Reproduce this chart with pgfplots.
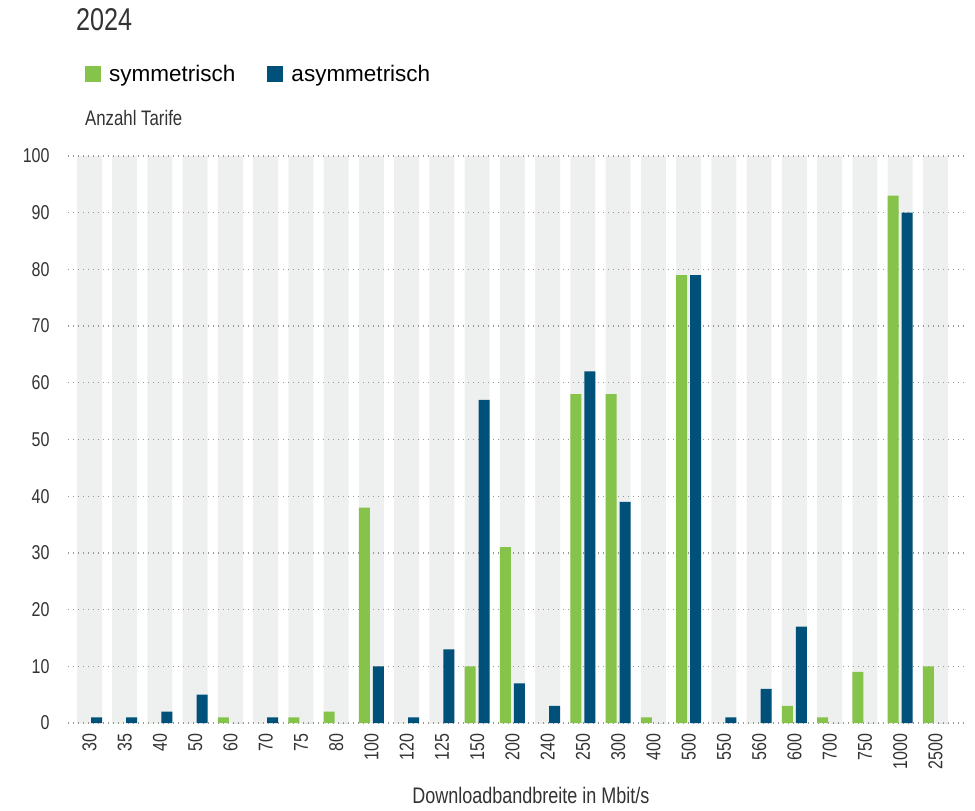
\documentclass[border=0pt]{standalone}
\usepackage{pgfplots}
\pgfplotsset{compat=1.18}
\usepackage{pgfplotstable}
\usepackage{fontspec}
\setmainfont{Liberation Sans}
\newfontfamily\condf[FakeStretch=0.8]{Liberation Sans}
\definecolor{symgreen}{RGB}{133,195,75}
\definecolor{asymblue}{RGB}{0,81,121}
\definecolor{bandgray}{RGB}{238,240,239}
\definecolor{txtgray}{RGB}{51,51,51}
\definecolor{gridgray}{RGB}{150,150,150}
\pgfplotstableread{
x sym asym band
0 0 1 100
1 0 1 100
2 0 2 100
3 0 5 100
4 1 0 100
5 0 1 100
6 1 0 100
7 2 0 100
8 38 10 100
9 0 1 100
10 0 13 100
11 10 57 100
12 31 7 100
13 0 3 100
14 58 62 100
15 58 39 100
16 1 0 100
17 79 79 100
18 0 1 100
19 0 6 100
20 3 17 100
21 1 0 100
22 9 0 100
23 93 90 100
24 10 0 100
}\datatable
\begin{document}
\begin{tikzpicture}
\begin{axis}[
  at={(68pt,-723pt)}, anchor=south west,
  scale only axis, width=897pt, height=567pt,
  set layers,
  xmin=-0.61, xmax=24.84, ymin=0, ymax=100,
  xtick={0,...,24},
  xticklabels={30,35,40,50,60,70,75,80,100,120,125,150,200,240,250,300,400,500,550,560,600,700,750,1000,2500},
  ytick={0,10,...,100},
  ymajorgrids,
  grid style={gridgray, line width=1.3pt, dash pattern=on 1.3pt off 3.7pt},
  axis line style={draw=none},
  major tick length=0pt,
  /pgf/number format/assume math mode=true,
  ticklabel style={font=\condf\fontsize{20}{24}\selectfont, text=txtgray},
  yticklabel style={xshift=-15pt},
  xticklabel style={yshift=-7pt, rotate=90, anchor=east},
  xlabel={Downloadbandbreite in Mbit/s},
  xlabel style={font=\condf\fontsize{22.5}{26}\selectfont, text=txtgray, at={(axis description cs:0.516,-0.127)}, anchor=center},
  legend columns=2,
  legend style={at={(axis description cs:0.019,1.145)}, anchor=west, draw=none, fill=none,
    inner sep=0pt, nodes={inner sep=0pt, font=\fontsize{22.5}{26}\selectfont, text=black},
    /tikz/every odd column/.append style={column sep=8pt},
    /tikz/every even column/.append style={column sep=32pt}},
  legend image code/.code={\fill[#1] (0pt,-8pt) rectangle (16pt,8pt);},
]
\addplot[ybar, bar width=25pt, bar shift=0pt, fill=bandgray, draw=none, forget plot, on layer=axis background] table[x=x, y=band] {\datatable};
\addplot[ybar, bar width=11pt, bar shift=-7pt, fill=symgreen, draw=none] table[x=x, y=sym] {\datatable};
\addlegendentry{symmetrisch}
\addplot[ybar, bar width=11pt, bar shift=7pt, fill=asymblue, draw=none] table[x=x, y=asym] {\datatable};
\addlegendentry{asymmetrisch}
\end{axis}
\node[anchor=west, font=\condf\fontsize{31.5}{36}\selectfont, text=txtgray, inner sep=0pt] at (76pt,-20pt) {2024};
\node[anchor=west, font=\condf\fontsize{21}{25}\selectfont, text=txtgray, inner sep=0pt] at (85pt,-118pt) {Anzahl Tarife};
\path[use as bounding box] (0,0) rectangle (975pt,-811pt);
\end{tikzpicture}
\end{document}
